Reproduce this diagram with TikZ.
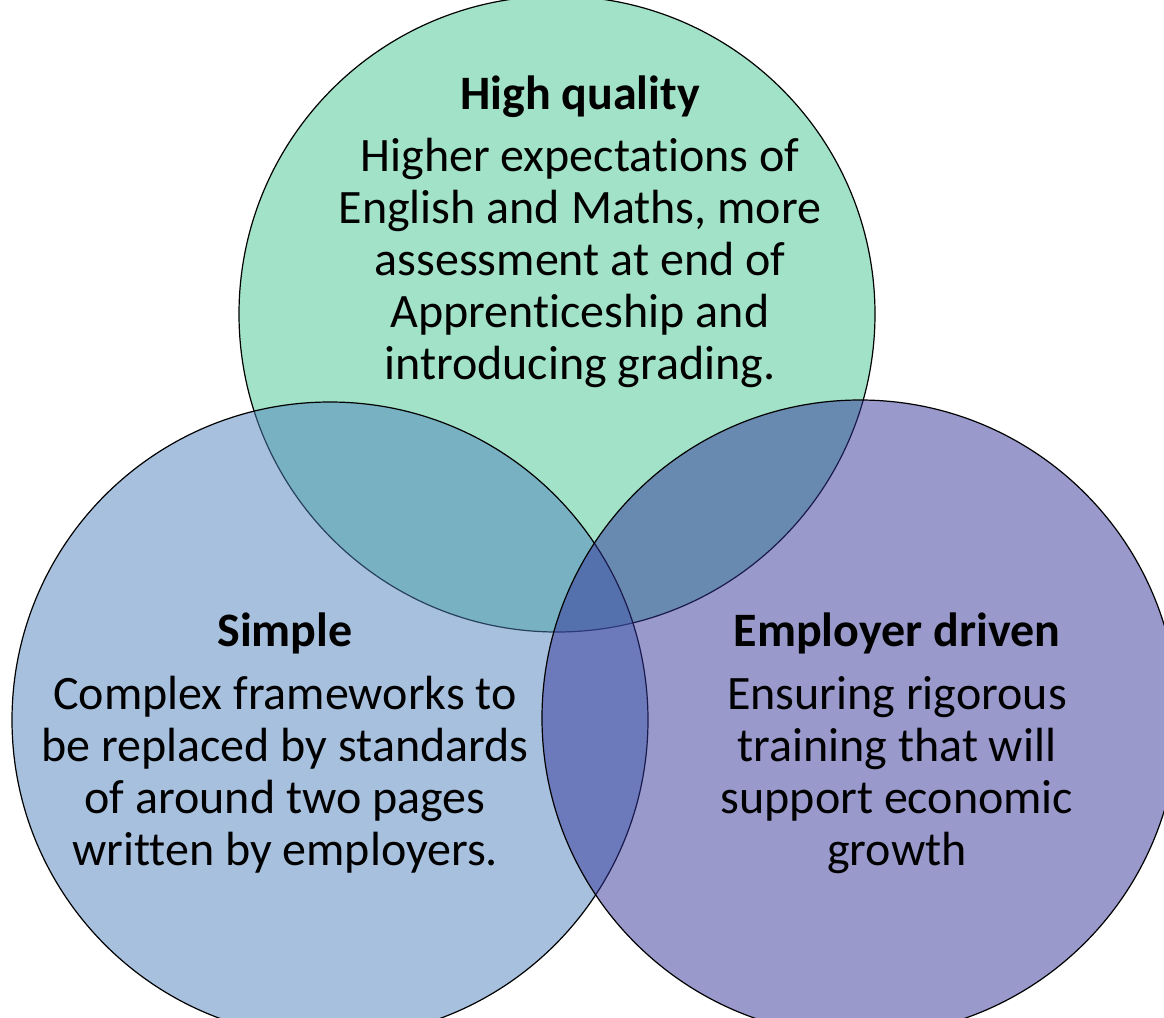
\documentclass[tikz,border=0pt]{standalone}
\usepackage{fontspec}
\setmainfont[Ligatures=NoCommon]{Carlito}
\definecolor{qualgreen}{RGB}{161,226,200}
\definecolor{simpleblue}{RGB}{79,129,189}
\definecolor{employerpurple}{RGB}{51,51,153}
\begin{document}
\begin{tikzpicture}[x=0.5pt,y=-0.5pt,
  venn/.style={circle, draw=black, line width=0.6pt, minimum size=318pt, inner sep=0pt, outer sep=0pt},
  heading/.style={font=\fontsize{24}{26}\selectfont\bfseries, inner sep=0pt},
  bodytext/.style={font=\fontsize{24}{26}\selectfont, align=center, inner sep=0pt}]
\useasboundingbox (0,0) rectangle (1164,1018);
\clip (0,0) rectangle (1164,1018);
% three translucent sets, back to front
\node[venn, fill=qualgreen] (quality) at (557,314) {};
\node[venn, fill=simpleblue, fill opacity=0.5] (simple) at (330,720) {};
\node[venn, fill=employerpurple, fill opacity=0.5] (employer) at (860,718) {};
% labels
\node[heading] (qualityhead) at (580,97) {High quality};
\node[bodytext] (qualitytext) at (580,263) {Higher expectations of\\English and Maths, more\\assessment at end of\\Apprenticeship and\\introducing grading.};
\node[heading] (simplehead) at (285,633) {Simple};
\node[bodytext] (simpletext) at (285,775) {Complex frameworks to\\be replaced by standards\\of around two pages\\written by employers.};
\node[heading] (employerhead) at (897,633) {Employer driven};
\node[bodytext] (employertext) at (897,775) {Ensuring rigorous\\training that will\\support economic\\growth};
\end{tikzpicture}
\end{document}
